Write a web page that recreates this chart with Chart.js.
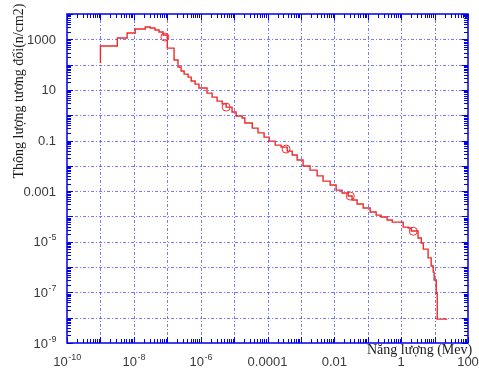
<!DOCTYPE html>
<html><head><meta charset="utf-8">
<script src="https://cdn.jsdelivr.net/npm/chart.js@4"></script>
<style>html,body{margin:0;padding:0;background:#fff}#wrap{width:479px;height:372px}</style>
</head><body><div id="wrap"><canvas id="c" width="479" height="372"></canvas></div>
<script>
// Step spectrum: energy (MeV) where each level starts, and the level value
const energy = [1e-9,1e-9,3.2e-9,6.3e-9,1.1e-8,2.2e-8,3.1e-8,4.3e-8,5.7e-8,7.5e-8,1.0e-7,1.6e-7,2.1e-7,2.6e-7,3.2e-7,4.2e-7,5.2e-7,6.8e-7,8.9e-7,1.55e-6,2.2e-6,3.1e-6,4.4e-6,5.8e-6,8.7e-6,1.15e-5,1.74e-5,2.1e-5,3.5e-5,5.2e-5,7.9e-5,1.12e-4,1.7e-4,2.55e-4,3.9e-4,5.5e-4,7.7e-4,1.16e-3,1.88e-3,3.05e-3,4.6e-3,7.5e-3,1.13e-2,1.7e-2,2.6e-2,3.4e-2,4.8e-2,7.3e-2,0.118,0.178,0.25,0.38,0.54,1.15,1.62,2.0,3.2,4.0,4.6,6.4,7.9,9.1,9.7,11.2,12,24];
const flux = [115,545,1130,1780,2560,3060,2800,2330,1940,1480,450,152,80,56,42,32,22.5,17,11.9,7.5,5.2,3.6,2.8,2.1,1.34,0.93,0.78,0.49,0.31,0.2,0.137,0.095,0.066,0.055,0.038,0.027,0.017,0.0098,0.0068,0.004,0.0025,0.00174,0.0011,8.4e-4,6.4e-4,4.5e-4,3.1e-4,2.15e-4,1.5e-4,1.13e-4,9.5e-5,7.2e-5,6.0e-5,3.8e-5,3.5e-5,2.65e-5,1.4e-5,8.9e-6,5.1e-6,2.3e-6,1.1e-6,6.3e-7,3.1e-7,9.3e-8,8.8e-9,8.8e-9];
const markerEnergy = [8.5e-8,5.8e-6,3.6e-4,0.03,2.3];
const markerFlux = [1230,2.1,0.046,6.4e-4,2.6e-5];
const xTickValues = [1e-10,1e-8,1e-6,1e-4,1e-2,1,100];
const xTickBase = ['10','10','10','0.0001','0.01','1','100'];
const xTickExp  = ['-10','-8','-6','','','',''];
const yTickValues = [1000,10,0.1,0.001,1e-5,1e-7,1e-9];
const yTickBase = ['1000','10','0.1','0.001','10','10','10'];
const yTickExp  = ['','','','','-5','-7','-9'];
const xTitle = 'Năng lượng (Mev)';
const yTitle = 'Thông lượng tương đối(n/cm2)';

const BLUE = '#0000e8';
const frame = {
  id: 'frame',
  beforeDatasetsDraw(chart) {
    const {ctx, chartArea: a, scales: {x, y}} = chart;
    ctx.save();
    ctx.strokeStyle = 'rgba(50,50,255,0.65)';
    ctx.lineWidth = 1;
    ctx.setLineDash([3, 2, 1, 2]);
    for (let p = -9; p <= 1; p++) {
      const px = Math.round(x.getPixelForValue(Math.pow(10, p))) + 0.5;
      ctx.beginPath(); ctx.moveTo(px, a.bottom); ctx.lineTo(px, a.top); ctx.stroke();
    }
    for (let p = -8; p <= 3; p++) {
      const py = Math.round(y.getPixelForValue(Math.pow(10, p))) + 0.5;
      ctx.beginPath(); ctx.moveTo(a.left, py); ctx.lineTo(a.right, py); ctx.stroke();
    }
    ctx.restore();
  },
  afterDatasetsDraw(chart) {
    const {ctx, chartArea: a, scales: {x, y}} = chart;
    ctx.save();
    ctx.strokeStyle = BLUE;
    ctx.lineWidth = 1;
    for (let d = -10; d <= 2; d++) {
      for (let k = 1; k <= 9; k++) {
        const v = k * Math.pow(10, d);
        if (v < 1e-10 * 0.999 || v > 100 * 1.001) continue;
        const px = Math.round(x.getPixelForValue(v)) + 0.5;
        const len = k === 1 ? 6 : 4;
        ctx.beginPath();
        ctx.moveTo(px, a.bottom); ctx.lineTo(px, a.bottom - len);
        ctx.moveTo(px, a.top); ctx.lineTo(px, a.top + len);
        ctx.stroke();
      }
    }
    for (let d = -9; d <= 4; d++) {
      for (let k = 1; k <= 9; k++) {
        const v = k * Math.pow(10, d);
        if (v < 1e-9 * 0.999 || v > 1e4 * 1.001) continue;
        const py = Math.round(y.getPixelForValue(v)) + 0.5;
        const len = k === 1 ? 6 : 4;
        ctx.beginPath();
        ctx.moveTo(a.left, py); ctx.lineTo(a.left + len, py);
        ctx.moveTo(a.right, py); ctx.lineTo(a.right - len, py);
        ctx.stroke();
      }
    }
    ctx.lineWidth = 1.5;
    ctx.strokeRect(a.left, a.top, a.right - a.left, a.bottom - a.top);

    const baseFont = '13px "Liberation Sans", Arial, sans-serif';
    const expFont = '9px "Liberation Sans", Arial, sans-serif';
    ctx.fillStyle = '#3a3a3a';
    ctx.textBaseline = 'alphabetic';
    ctx.textAlign = 'left';
    function measure(b, e) {
      ctx.font = baseFont; const wb = ctx.measureText(b).width;
      ctx.font = expFont; const we = e ? ctx.measureText(e).width : 0;
      return [wb, we];
    }
    function draw(b, e, left, base) {
      const [wb] = measure(b, e);
      ctx.font = baseFont; ctx.fillText(b, left, base);
      if (e) { ctx.font = expFont; ctx.fillText(e, left + wb + 0.5, base - 6); }
    }
    xTickValues.forEach((v, i) => {
      const cx = x.getPixelForValue(v);
      const [wb, we] = measure(xTickBase[i], xTickExp[i]);
      draw(xTickBase[i], xTickExp[i], cx - (wb + we) / 2, 366);
    });
    yTickValues.forEach((v, i) => {
      const cy = y.getPixelForValue(v);
      const [wb, we] = measure(yTickBase[i], yTickExp[i]);
      draw(yTickBase[i], yTickExp[i], 56 - (wb + we), cy + 4.5);
    });

    ctx.fillStyle = '#1a1a1a';
    ctx.font = '14px "Liberation Serif", "Times New Roman", serif';
    ctx.textAlign = 'left';
    ctx.fillText(xTitle, 367, 354);
    ctx.save();
    ctx.translate(23, 91);
    ctx.rotate(-Math.PI / 2);
    ctx.textAlign = 'center';
    ctx.fillText(yTitle, 0, 0);
    ctx.restore();
    ctx.restore();
  }
};

new Chart(document.getElementById('c'), {
  type: 'line',
  data: {
    datasets: [
      {
        data: energy.map((e, i) => ({x: e, y: flux[i]})),
        stepped: 'before',
        borderColor: '#ee2a2a',
        borderWidth: 1.4,
        pointRadius: 0,
        fill: false
      },
      {
        data: markerEnergy.map((e, i) => ({x: e, y: markerFlux[i]})),
        showLine: false,
        pointRadius: 4,
        pointBorderColor: '#ee3333',
        pointBackgroundColor: 'rgba(0,0,0,0)',
        pointBorderWidth: 1
      }
    ]
  },
  options: {
    responsive: false,
    animation: false,
    devicePixelRatio: 1,
    layout: {padding: {left: 67, top: 14, right: 11, bottom: 29}},
    plugins: {legend: {display: false}, tooltip: {enabled: false}},
    scales: {
      x: {type: 'logarithmic', min: 1e-10, max: 100, display: false},
      y: {type: 'logarithmic', min: 1e-9, max: 1e4, display: false}
    }
  },
  plugins: [frame]
});
</script>
</body></html>
